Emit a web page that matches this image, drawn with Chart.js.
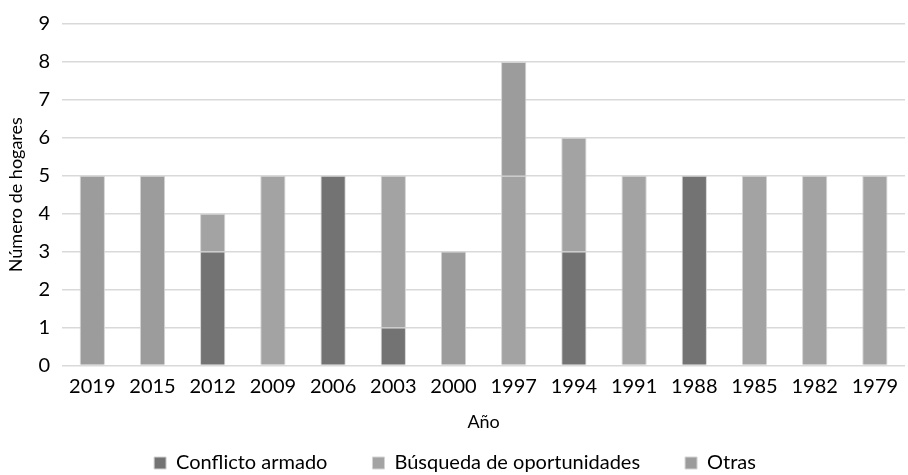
<!DOCTYPE html>
<html>
<head>
<meta charset="utf-8">
<script src="https://cdn.jsdelivr.net/npm/chart.js"></script>
<style>
  html, body { margin: 0; padding: 0; background: #fff; }
  #wrap { width: 908px; height: 475px; }
</style>
</head>
<body>
<div id="wrap"><canvas id="chart"></canvas></div>
<script>
// data
const years = ['2019', '2015', '2012', '2009', '2006', '2003', '2000', '1997', '1994', '1991', '1988', '1985', '1982', '1979'];
const conflicto = [0, 0, 3, 0, 5, 1, 0, 0, 3, 0, 5, 0, 0, 0];
const busqueda  = [0, 0, 1, 5, 0, 4, 0, 5, 3, 5, 0, 5, 5, 5];
const otras     = [5, 5, 0, 0, 0, 0, 3, 3, 0, 0, 0, 0, 0, 0];
const yTicks = [0, 1, 2, 3, 4, 5, 6, 7, 8, 9];

const font = 'Lato, "Open Sans", sans-serif';
Chart.defaults.font.family = font;
Chart.defaults.color = '#000';

const mk = (label, data, color) => ({
    label: label,
    data: data,
    backgroundColor: color,
    borderColor: '#d4d4d4',
    borderWidth: 1,
    barPercentage: 0.42,
    categoryPercentage: 1.0
});

// legend: wide horizontal gaps but a short box (Excel style)
const LEGEND_H = 38, LEGEND_SHIFT = 29;
const legendTweak = {
    id: 'legendTweak',
    afterInit(chart) {
        const lg = chart.legend;
        const fit = lg.fit, draw = lg.draw;
        lg.fit = function() { fit.call(this); this.height = LEGEND_H; };
        lg.draw = function() {
            const t = this.top;
            this.top = t - LEGEND_SHIFT;
            draw.call(this);
            this.top = t;
        };
    }
};

new Chart(document.getElementById('chart'), {
    type: 'bar',
    data: {
        labels: years,
        datasets: [
            mk('Conflicto armado', conflicto, '#737373'),
            mk('Búsqueda de oportunidades', busqueda, '#a3a3a3'),
            mk('Otras', otras, '#9c9c9c')
        ]
    },
    options: {
        responsive: true,
        maintainAspectRatio: false,
        animation: false,
        layout: { padding: { top: -2, right: 3, left: 5, bottom: 0 } },
        scales: {
            x: {
                stacked: true,
                grid: { display: false, drawTicks: false },
                border: { display: false },
                ticks: { font: { size: 20 }, padding: 9, maxRotation: 0 },
                title: { display: true, text: 'Año', font: { size: 18 }, padding: { top: 4, bottom: 4 } }
            },
            y: {
                stacked: true,
                min: 0,
                max: 9,
                afterBuildTicks: (axis) => { axis.ticks = yTicks.map(v => ({ value: v })); },
                grid: { color: '#d9d9d9', lineWidth: 1.5, drawTicks: false },
                border: { display: false },
                ticks: { font: { size: 20 }, padding: 12 },
                title: { display: true, text: 'Número de hogares', font: { size: 18 }, padding: { top: 0, bottom: 0 } }
            }
        },
        plugins: {
            legend: {
                position: 'bottom',
                labels: {
                    font: { size: 20 },
                    boxWidth: 12,
                    boxHeight: 12,
                    padding: 45,
                    color: '#000'
                }
            },
            tooltip: { enabled: false }
        }
    },
    plugins: [legendTweak]
});
</script>
</body>
</html>
